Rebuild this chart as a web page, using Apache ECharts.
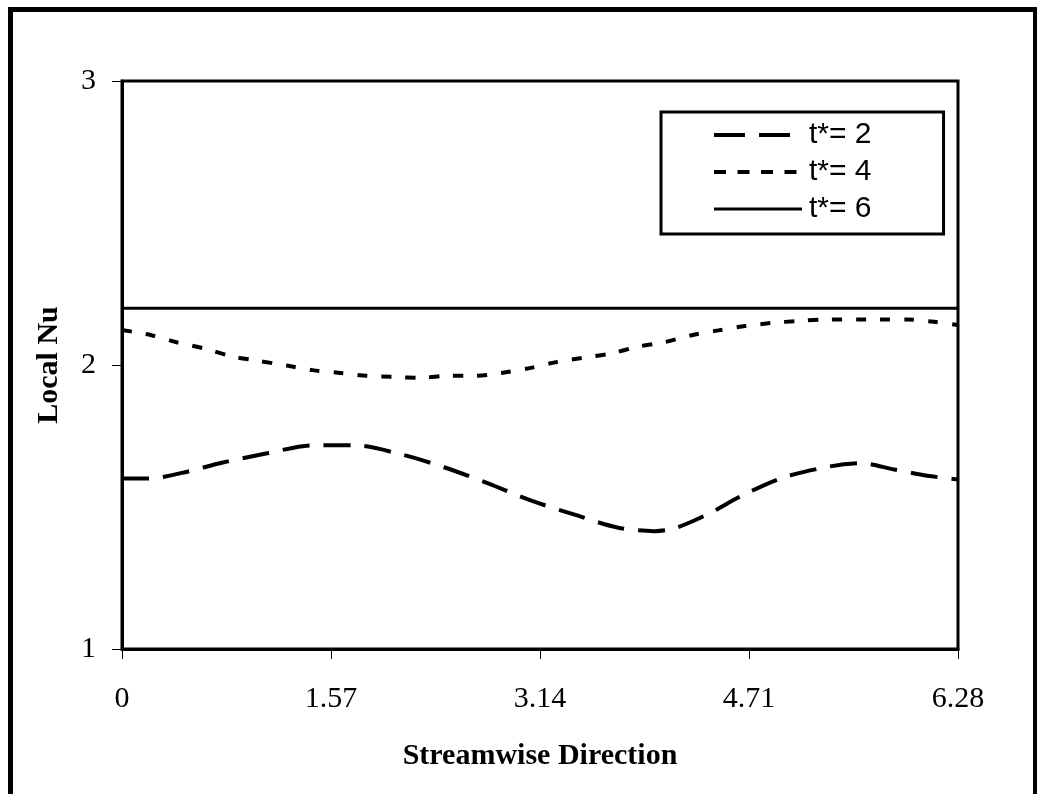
<!DOCTYPE html>
<html>
<head>
<meta charset="utf-8">
<script src="https://cdn.jsdelivr.net/npm/echarts@6/dist/echarts.min.js"></script>
<style>
html,body{margin:0;padding:0;background:#fff;}
#chart{width:1037px;height:794px;}
</style>
</head>
<body>
<div id="chart"></div>
<script>
// ---- data ----
var seriesNames = ['t*= 2', 't*= 4', 't*= 6'];
var xTickLabels = ['0', '1.57', '3.14', '4.71', '6.28'];
var yTickLabels = ['1', '2', '3'];

var xT2 = [0, 0.2, 0.45, 0.75, 1.1, 1.43, 1.75, 2.1, 2.42, 2.75, 3.07, 3.4, 3.72, 4.0, 4.15, 4.38, 4.67, 4.97, 5.32, 5.55, 5.8, 6.05, 6.28];
var yT2 = [1.60, 1.60, 1.62, 1.656, 1.69, 1.717, 1.717, 1.685, 1.64, 1.583, 1.523, 1.473, 1.428, 1.415, 1.425, 1.47, 1.543, 1.604, 1.643, 1.654, 1.632, 1.61, 1.597];

var xT4 = [0, 0.22, 0.41, 0.62, 0.83, 1.02, 1.24, 1.43, 1.64, 1.84, 2.04, 2.25, 2.45, 2.65, 2.85, 3.07, 3.26, 3.46, 3.67, 3.87, 4.07, 4.28, 4.48, 4.68, 4.88, 5.08, 5.29, 5.69, 5.90, 6.10, 6.28];
var yT4 = [2.123, 2.105, 2.08, 2.058, 2.03, 2.015, 1.998, 1.982, 1.972, 1.962, 1.958, 1.955, 1.962, 1.962, 1.972, 1.99, 2.01, 2.025, 2.04, 2.064, 2.08, 2.105, 2.122, 2.137, 2.148, 2.155, 2.16, 2.16, 2.16, 2.152, 2.141];

var xT6 = [0, 1.57, 3.14, 4.71, 6.28];
var yT6 = [2.2, 2.2, 2.2, 2.2, 2.2];

function pairs(xs, ys) { return xs.map(function (x, i) { return [x, ys[i]]; }); }

var chart = echarts.init(document.getElementById('chart'), null, { renderer: 'canvas' });

var serif = '"Liberation Serif", "Times New Roman", serif';
var sans = '"Liberation Sans", Arial, sans-serif';
var hiddenSymbol = { color: 'rgba(0,0,0,0)', borderWidth: 0, opacity: 0 };

var option = {
  backgroundColor: '#ffffff',
  animation: false,
  graphic: [{
    type: 'rect',
    shape: { x: 10.5, y: 9.5, width: 1025, height: 800 },
    style: { fill: null, stroke: '#000', lineWidth: 5 },
    silent: true,
    z: 100
  }],
  grid: {
    left: 122, top: 81, right: 79, bottom: 145,
    show: true, borderColor: '#000', borderWidth: 3,
    containLabel: false
  },
  legend: {
    orient: 'vertical',
    left: 661, top: 112,
    data: [
      { name: seriesNames[0], itemStyle: hiddenSymbol, lineStyle: { color: '#000', width: 4, type: [31, 14] } },
      { name: seriesNames[1], itemStyle: hiddenSymbol, lineStyle: { color: '#000', width: 4, type: [12, 11.5] } },
      { name: seriesNames[2], itemStyle: hiddenSymbol, lineStyle: { color: '#000', width: 3, type: 'solid' } }
    ],
    padding: [8, 72, 10, 51],
    itemGap: 7,
    itemWidth: 88,
    itemHeight: 14,
    borderColor: '#000',
    borderWidth: 3,
    backgroundColor: '#fff',
    itemStyle: hiddenSymbol,
    textStyle: { fontFamily: sans, fontSize: 30, color: '#000', lineHeight: 30, padding: [0, 0, 0, 2] }
  },
  xAxis: {
    type: 'value',
    min: 0, max: 6.28, interval: 1.57,
    name: 'Streamwise Direction',
    nameLocation: 'middle',
    nameGap: 92,
    nameTextStyle: { fontFamily: serif, fontSize: 30, fontWeight: 'bold', color: '#000' },
    axisLine: { show: true, onZero: false, lineStyle: { color: '#000', width: 3 } },
    axisTick: { show: true, inside: false, length: 10, lineStyle: { color: '#000', width: 1 } },
    axisLabel: {
      margin: 35, fontFamily: serif, fontSize: 30, color: '#000',
      formatter: function (v, i) { return xTickLabels[i]; }
    },
    splitLine: { show: false }
  },
  yAxis: {
    type: 'value',
    min: 1, max: 3, interval: 1,
    name: 'Local Nu',
    nameLocation: 'middle',
    nameGap: 58,
    nameTextStyle: { fontFamily: serif, fontSize: 30, fontWeight: 'bold', color: '#000' },
    axisLine: { show: true, onZero: false, lineStyle: { color: '#000', width: 3 } },
    axisTick: { show: true, inside: false, length: 10, lineStyle: { color: '#000', width: 1 } },
    axisLabel: {
      margin: 26, fontFamily: serif, fontSize: 30, color: '#000',
      formatter: function (v, i) { return yTickLabels[i]; }
    },
    splitLine: { show: false }
  },
  series: [{
    name: seriesNames[0], type: 'line', data: pairs(xT2, yT2),
    smooth: 0.3, symbol: 'none', showSymbol: false,
    lineStyle: { color: '#000', width: 4, type: [27, 14] },
    itemStyle: { color: '#000' }
  }, {
    name: seriesNames[1], type: 'line', data: pairs(xT4, yT4),
    smooth: 0.3, symbol: 'none', showSymbol: false,
    lineStyle: { color: '#000', width: 4, type: [10, 14] },
    itemStyle: { color: '#000' }
  }, {
    name: seriesNames[2], type: 'line', data: pairs(xT6, yT6),
    smooth: false, symbol: 'none', showSymbol: false,
    lineStyle: { color: '#000', width: 3, type: 'solid' },
    itemStyle: { color: '#000' }
  }]
};
chart.setOption(option);
</script>
</body>
</html>
